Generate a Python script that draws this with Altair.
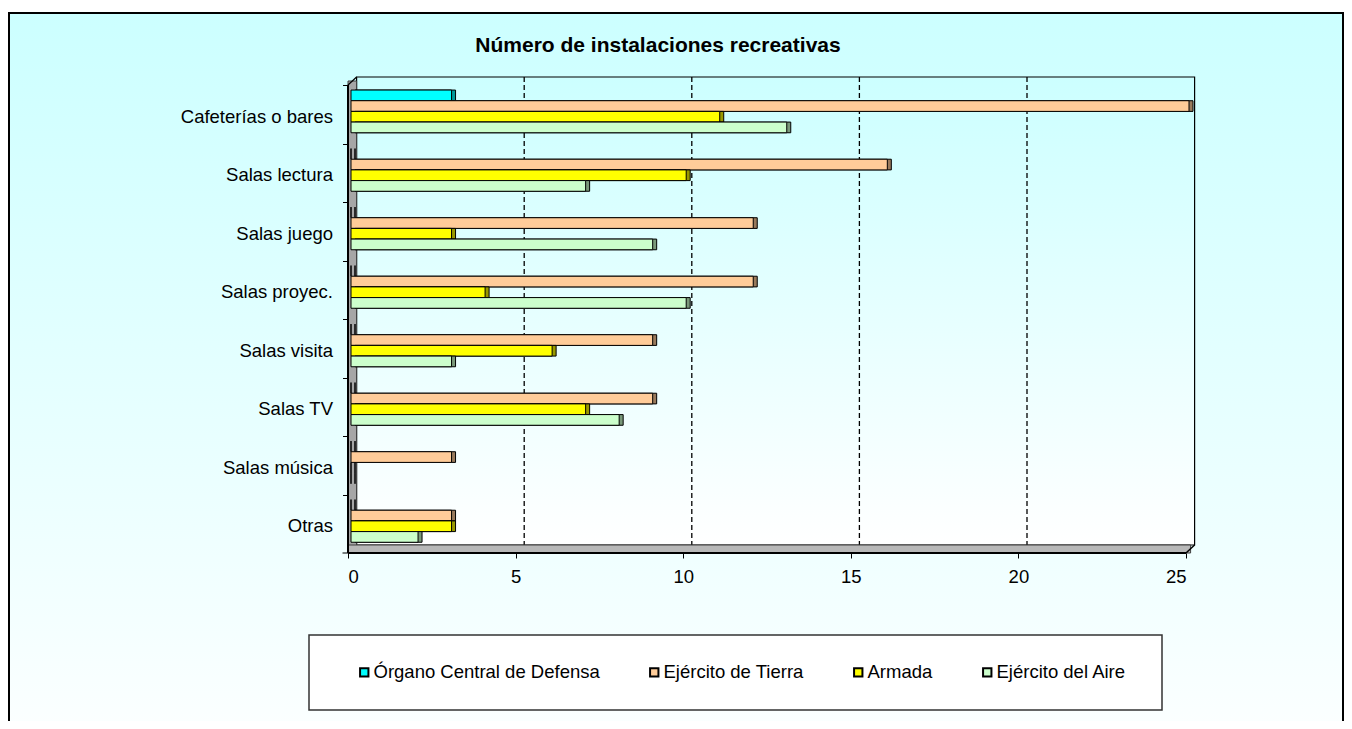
import altair as alt
import pandas as pd

categories = ["Cafeterías o bares", "Salas lectura", "Salas juego", "Salas proyec.",
              "Salas visita", "Salas TV", "Salas música", "Otras"]
series = ["Órgano Central de Defensa", "Ejército de Tierra", "Armada", "Ejército del Aire"]
organo = [3, 0, 0, 0, 0, 0, 0, 0]
tierra = [25, 16, 12, 12, 9, 9, 3, 3]
armada = [11, 10, 3, 4, 6, 7, 0, 3]
aire = [13, 7, 9, 10, 3, 8, 0, 2]
x_ticks = [0, 5, 10, 15, 20, 25]
grid_values = [5, 10, 15, 20]
title_text = "Número de instalaciones recreativas"

colors = ["#00FFFF", "#FFCC99", "#FFFF00", "#CCFFCC"]
dark_colors = ["#009999", "#997A5C", "#999900", "#7A997A"]

rows = []
for s, vals in zip(series, [organo, tierra, armada, aire]):
    for c, v in zip(categories, vals):
        rows.append({"categoria": c, "serie": s, "valor": v})
df = pd.DataFrame(rows)
grid_df = pd.DataFrame({"v": grid_values})
one = pd.DataFrame({"a": [0]})

W, H = 838, 468
DX, DY = 8.6, 8
FONT = "Liberation Sans"

grad_outer = alt.LinearGradient(gradient="linear", x1=0, x2=0, y1=0, y2=1,
                                stops=[alt.GradientStop(color="#CCFFFF", offset=0),
                                       alt.GradientStop(color="#FFFFFF", offset=1)])
grad_wall = alt.LinearGradient(gradient="linear", x1=0, x2=0, y1=0, y2=1,
                               stops=[alt.GradientStop(color="#CCFFFF", offset=0),
                                      alt.GradientStop(color="#FFFFFF", offset=1)])

frame = alt.Chart(one).mark_rect(fill=grad_outer, stroke="black", strokeWidth=2).encode(
    x=alt.value(-339), x2=alt.value(995), y=alt.value(-72), y2=alt.value(700))

wall = alt.Chart(one).mark_rect(fill=grad_wall, stroke="black", strokeWidth=1.2).encode(
    x=alt.value(DX), x2=alt.value(W + DX), y=alt.value(-DY), y2=alt.value(H - DY))

grid = alt.Chart(grid_df).mark_rule(xOffset=DX, strokeDash=[5, 3], color="black",
                                    strokeWidth=1.3).encode(
    x=alt.X("v:Q"), y=alt.value(-DY), y2=alt.value(H - DY))

left_wall = alt.Chart(one).mark_rect(fill="#A6A6A6", stroke="#404040", strokeWidth=1).encode(
    x=alt.value(0), x2=alt.value(DX), y=alt.value(-4), y2=alt.value(H))

floor = alt.Chart(one).mark_rect(fill="#B8B8B8", stroke="#404040", strokeWidth=1).encode(
    x=alt.value(0), x2=alt.value(W + DX - 4), y=alt.value(H - DY), y2=alt.value(H))

diag_tl = alt.Chart(one).mark_rule(color="black", strokeWidth=1.2).encode(
    x=alt.value(0), y=alt.value(0), x2=alt.value(DX), y2=alt.value(-DY))
diag_br = alt.Chart(one).mark_rule(color="black", strokeWidth=1.5).encode(
    x=alt.value(W), y=alt.value(H), x2=alt.value(W + DX), y2=alt.value(H - DY))
front_left = alt.Chart(one).mark_rule(color="black", strokeWidth=2).encode(
    x=alt.value(0), y=alt.value(0), y2=alt.value(H))
front_bottom = alt.Chart(one).mark_rule(color="black", strokeWidth=2).encode(
    x=alt.value(0), x2=alt.value(W), y=alt.value(H))
bottom_tick = alt.Chart(one).mark_rule(color="black", strokeWidth=1).encode(
    x=alt.value(-5.5), x2=alt.value(0), y=alt.value(H))

legend_box = alt.Chart(one).mark_rect(fill="white", stroke="#333333", strokeWidth=1.5).encode(
    x=alt.value(-39), x2=alt.value(814), y=alt.value(550), y2=alt.value(625))

x_enc = alt.X("valor:Q", scale=alt.Scale(domain=[0, 25], nice=False),
              axis=alt.Axis(values=x_ticks, title=None, grid=False, domain=False,
                            tickSize=5, tickColor="black", labelFont=FONT, labelFontSize=18.5,
                            labelColor="black", labelPadding=9, zindex=1))
y_enc = alt.Y("categoria:N", sort=categories,
              scale=alt.Scale(domain=categories, paddingInner=0, paddingOuter=0),
              axis=alt.Axis(title=None, domain=False, tickSize=5.5, tickColor="black",
                            tickOffset=-29.25, labelOffset=31, labelFont=FONT,
                            labelFontSize=18.5, labelColor="black", labelPadding=10,
                            zindex=1))
yoff_enc = alt.YOffset("serie:N", sort=series,
                       scale=alt.Scale(domain=series, paddingInner=0, paddingOuter=0.74,
                                       align=0.32))
color_enc = alt.Color("serie:N", sort=series,
                      scale=alt.Scale(domain=series, range=colors),
                      legend=alt.Legend(title=None, orient="none", legendX=7, legendY=578,
                                        direction="horizontal", columns=4, columnPadding=45,
                                        symbolType="square", symbolSize=70,
                                        symbolStrokeColor="black", symbolStrokeWidth=2,
                                        symbolOpacity=1, labelFont=FONT, labelFontSize=18.5,
                                        labelColor="black", labelOffset=0, labelLimit=0,
                                        padding=0, zindex=1))

bar_layers = []
for s, dc in zip(series, dark_colors):
    base = alt.Chart(df).transform_filter(alt.datum.serie == s)
    shadow = base.mark_bar(xOffset=7, x2Offset=7, yOffset=-3, y2Offset=-3,
                           stroke="black", strokeWidth=1).encode(
        x=x_enc, y=y_enc, yOffset=yoff_enc, color=alt.value(dc))
    front = base.mark_bar(xOffset=3, x2Offset=3, stroke="black", strokeWidth=1).encode(
        x=x_enc, y=y_enc, yOffset=yoff_enc, color=color_enc)
    bar_layers += [shadow, front]

title = alt.Chart(pd.DataFrame({"t": [title_text]})).mark_text(
    font=FONT, fontSize=21, fontWeight="bold", color="black", baseline="middle",
    align="center").encode(text="t:N", x=alt.value(310), y=alt.value(-39))

chart = alt.layer(frame, wall, grid, left_wall, floor, legend_box, *bar_layers,
                  diag_tl, diag_br, front_left, front_bottom, bottom_tick, title).properties(
    width=W, height=H,
    padding={"left": 340, "top": 77, "right": 158, "bottom": 168},
    autosize=alt.AutoSizeParams(type="none"),
    background="white",
).configure_view(stroke=None)

chart.save("out.html", embed_options={"renderer": "svg", "actions": False})
